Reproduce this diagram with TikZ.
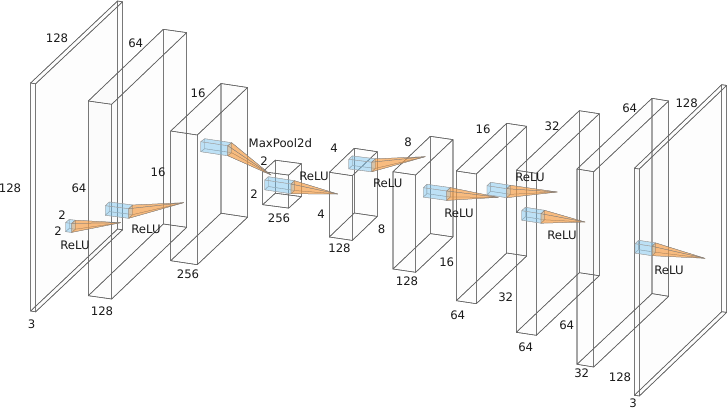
\documentclass[tikz,border=0pt]{standalone}
\usepackage{fontspec}
\setmainfont{DejaVu Sans}
\usepackage{xcolor}
\usetikzlibrary{calc}
\definecolor{kernelblue}{HTML}{6FC0EE}
\definecolor{kernelorange}{HTML}{F59A40}

\begin{document}
\begin{tikzpicture}[x=1pt,y=-1pt,
    layerface/.style={draw=black!60,line width=0.55pt,fill=black,fill opacity=0.005,line join=round},
    kernelface/.style={draw=black!35,line width=0.35pt,fill=kernelblue,fill opacity=0.26,line join=round},
    coneface/.style={draw=black!50,line width=0.25pt,fill=kernelorange,fill opacity=0.42,line join=round},
    sizelabel/.style={font=\fontsize{11.7}{12}\selectfont,text=black!90,inner sep=0pt}]
  \useasboundingbox (0,0) rectangle (727,409);
  % front corner, width, height, depth
  \def\cuboid#1#2#3#4#5#6#7#8{
    \coordinate (a) at (#2,#3);
    \coordinate (b) at ($(a)+(#4,#5)$);
    \coordinate (c) at ($(b)+(0,#6)$);
    \coordinate (d) at ($(a)+(0,#6)$);
    \coordinate (e) at ($(a)+(#7,#8)$);
    \coordinate (f) at ($(b)+(#7,#8)$);
    \coordinate (g) at ($(c)+(#7,#8)$);
    \coordinate (h) at ($(d)+(#7,#8)$);
    \path[#1] (e) -- (f) -- (g) -- (h) -- cycle;
    \path[#1] (a) -- (e) -- (h) -- (d) -- cycle;
    \path[#1] (d) -- (c) -- (g) -- (h) -- cycle;
    \path[#1] (a) -- (b) -- (f) -- (e) -- cycle;
    \path[#1] (a) -- (b) -- (c) -- (d) -- cycle;
    \path[#1] (b) -- (f) -- (g) -- (c) -- cycle;
  }
  \foreach \xa/\ya/\wx/\wy/\hh/\dx/\dy in {
    30.6/83/5/0.8/228/87/-82,
    88.3/101/23.4/3.3/194.7/75/-71.7,
    170.7/131/26.6/4/129.7/50.3/-47.5,
    262.7/171.7/26/3.4/33/12.6/-11.5,
    329.3/172.3/23/3.4/64.7/25/-24,
    393/171.7/22.7/3.3/97.3/37.3/-35.4,
    456.3/171/20/3/129.7/50.4/-47.7,
    516.3/170.3/20/3/162/63/-59.6,
    577/169/16.7/2.7/195.3/75/-70.7,
    634.3/168.3/5/0.7/227/87.4/-83.6} {
    \cuboid{layerface}{\xa}{\ya}{\wx}{\wy}{\hh}{\dx}{\dy}
  }
  \foreach \xa/\ya/\wx/\wy/\hh/\dx/\dy/\tipx/\tipy in {
    65.5/222.7/6.2/0.7/9/3.7/-3.2/120.7/222.7,
    105.3/205.7/23.4/3/9.6/4/-3.7/183.7/202.7,
    200.7/141.7/27/4/10/4/-3/271/175,
    264.7/180/26.3/4/9.8/3.6/-3.3/337.7/194,
    348.7/159.3/23/2.9/9.6/3.6/-3.4/425.3/156.7,
    423.3/187.7/23.4/3.3/9.4/3.6/-3.4/498.3/197.3,
    487/185.7/19.7/3/9/3.6/-3.4/557.3/192,
    521.7/210.7/19.3/3/9.5/3.6/-3.4/585/222,
    635/243.7/17/2.6/9.4/3.6/-3.4/705/258.3} {
    \cuboid{kernelface}{\xa}{\ya}{\wx}{\wy}{\hh}{\dx}{\dy}
    \coordinate (tip) at (\tipx,\tipy);
    \path[coneface] (f) -- (g) -- (tip) -- cycle;
    \path[coneface] (f) -- (b) -- (tip) -- cycle;
    \path[coneface] (g) -- (c) -- (tip) -- cycle;
    \path[coneface] (b) -- (c) -- (tip) -- cycle;
  }
  \foreach \x/\y/\t [count=\i] in {
    57/38/128, 135.7/43/64, 198/93/16, 10/188/128, 79/188/64, 158/172/16,
    62/215/2, 58/231/2, 75/245/ReLU, 146/229/ReLU, 188/274/256, 102/311/128,
    31.5/324/3, 280.3/143/MaxPool2d, 264/161/2, 254/194/2, 314/176.5/ReLU,
    279/218/256, 334/148.5/4, 321/214/4, 339.5/248/128, 408/142/8, 381.7/229/8,
    387.7/183/ReLU, 407/281/128, 483/129/16, 552/126/32, 629.7/108/64,
    686.7/103/128, 459/213/ReLU, 446.7/262/16, 505.7/297/32, 457.7/315/64,
    530/177/ReLU, 562/235/ReLU, 566.7/325/64, 525.7/347/64, 581.7/373/32,
    620/377.7/128, 633/403/3, 669/270/ReLU} {
    \node[sizelabel] (lbl\i) at (\x,\y) {\t};
  }
\end{tikzpicture}
\end{document}
